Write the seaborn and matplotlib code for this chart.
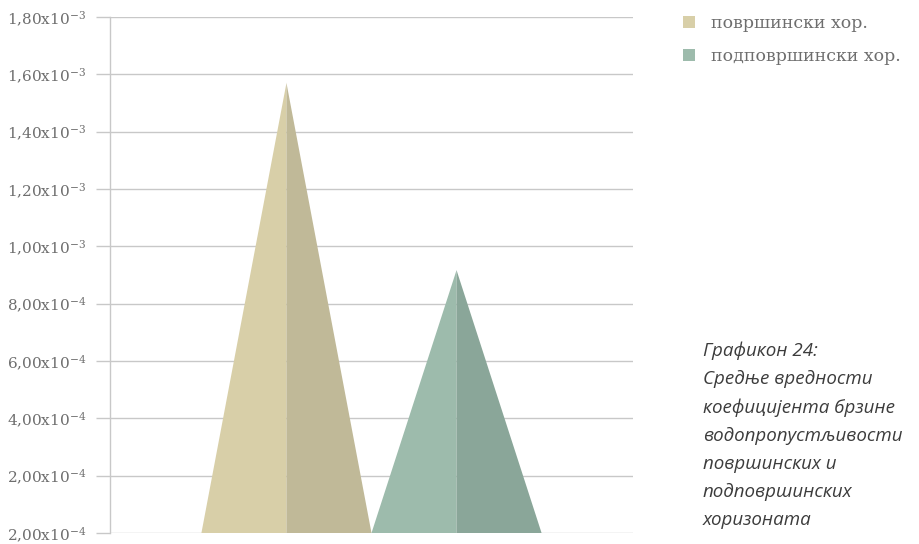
import matplotlib
matplotlib.use("Agg")
import matplotlib.pyplot as plt
from matplotlib.patches import Patch
import seaborn as sns
import pandas as pd

# Mean permeability coefficients (m/s) per horizon
series = ["површински хор.", "подповршински хор."]
values = [1.57e-3, 0.917e-3]
light_colors = ["#d8cfa8", "#9dbbac"]
dark_colors = ["#c0b998", "#8aa699"]

tick_values = [0, 2e-4, 4e-4, 6e-4, 8e-4, 1.0e-3, 1.2e-3, 1.4e-3, 1.6e-3, 1.8e-3]
tick_mantissas = ["2,00", "2,00", "4,00", "6,00", "8,00", "1,00", "1,20", "1,40", "1,60", "1,80"]
tick_exponents = ["-4", "-4", "-4", "-4", "-4", "-3", "-3", "-3", "-3", "-3"]

caption = ("Графикон 24:\nСредње вредности\nкоефицијента брзине\n"
           "водопропустљивости\nповршинских и\nподповршинских\nхоризоната")

sns.set_theme(style="white")
plt.rcParams["font.family"] = ["DejaVu Serif", "Liberation Serif"]
plt.rcParams["mathtext.fontset"] = "dejavuserif"

text_gray = "#6e6e6e"
grid_gray = "#c8c8c8"

df = pd.DataFrame({"group": [""] * len(series), "series": series, "value": values})

fig = plt.figure(figsize=(9.2, 5.44), dpi=100)
ax = fig.add_axes([110 / 920, 11 / 544, 523 / 920, 516 / 544])

sns.barplot(data=df, x="group", y="value", hue="series", palette=light_colors,
            width=0.8, dodge=True, legend=False, ax=ax)

# Turn each seaborn bar into a two-tone triangle
for patch, c_light, c_dark in zip(ax.patches, light_colors, dark_colors):
    x0 = patch.get_x()
    w = patch.get_width()
    h = patch.get_height()
    xm = x0 + w / 2
    ax.fill([x0, xm, xm], [0, h, 0], color=c_light, lw=0, zorder=3)
    ax.fill([xm, xm, x0 + w], [0, h, 0], color=c_dark, lw=0, zorder=3)
    patch.set_visible(False)

ax.set_xlim(-0.615, 0.615)
ax.set_ylim(0, 1.8e-3)
ax.set_xlabel("")
ax.set_ylabel("")
ax.set_xticks([])

ax.set_yticks(tick_values)
ax.set_yticklabels([f"{m}x10$^{{\\mathregular{{{e}}}}}$" for m, e in zip(tick_mantissas, tick_exponents)],
                   fontsize=11, color=text_gray)
ax.tick_params(axis="y", left=True, length=10, width=1, color=grid_gray, pad=7)
ax.yaxis.grid(True, color=grid_gray, lw=1, zorder=0)
ax.set_axisbelow(True)

for side in ["top", "right", "bottom"]:
    ax.spines[side].set_visible(False)
ax.spines["left"].set_color(grid_gray)
ax.spines["left"].set_linewidth(1)

handles = [Patch(facecolor=c, edgecolor="none") for c in light_colors]
fig.legend(handles, series, loc="upper left", bbox_to_anchor=(676 / 920, 1 - 8 / 544),
           frameon=False, fontsize=12.5, labelcolor=text_gray, handlelength=0.7,
           handleheight=0.7, handletextpad=0.9, labelspacing=0.95, borderaxespad=0)

fig.text(703 / 920, 1 - 341 / 544, caption, ha="left", va="top", fontsize=13.5,
         style="italic", color="#3c3c3c", linespacing=1.72,
         family=["Open Sans", "DejaVu Sans"])

fig.savefig("out.png", dpi=100)
